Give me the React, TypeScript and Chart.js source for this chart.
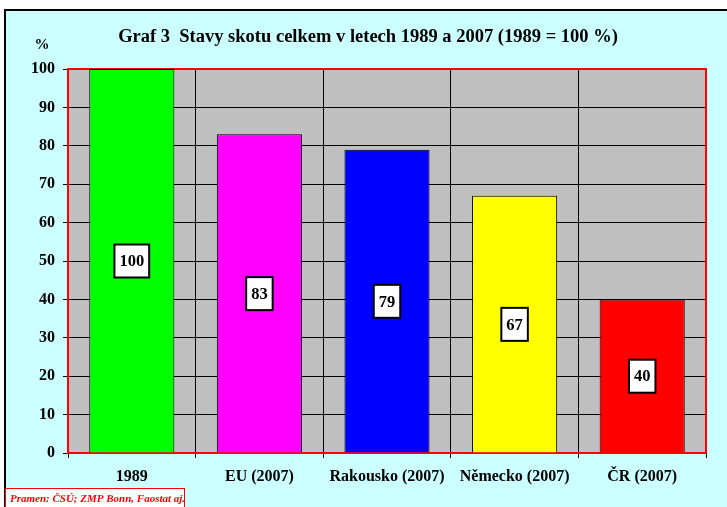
import React, { useEffect, useRef } from "react";
import { Chart, registerables } from "chart.js";

Chart.register(...registerables);

const categories = ["1989", "EU (2007)", "Rakousko (2007)", "Německo (2007)", "ČR (2007)"];
const values = [100, 83, 79, 67, 40];
const barColors = ["#00FF00", "#FF00FF", "#0000FF", "#FFFF00", "#FF0000"];
const titleText = "Graf 3  Stavy skotu celkem v letech 1989 a 2007 (1989 = 100 %)";
const yUnit = "%";
const sourceText = "Pramen: ČSÚ; ZMP Bonn, Faostat aj.";

const SERIF = "'Liberation Serif', 'Times New Roman', serif";

const decorPlugin = {
  id: "decor",
  beforeDraw(chart: any) {
    const ctx = chart.ctx;
    const { width, height, chartArea } = chart;
    ctx.save();
    ctx.fillStyle = "#FFFFFF";
    ctx.fillRect(0, 0, width, height);
    ctx.fillStyle = "#000000";
    ctx.fillRect(4, 9, width - 4, height - 9);
    ctx.fillStyle = "#CCFFFF";
    ctx.fillRect(6, 11, width - 6, height - 11);
    ctx.fillStyle = "#C0C0C0";
    ctx.fillRect(chartArea.left, chartArea.top, chartArea.right - chartArea.left, chartArea.bottom - chartArea.top);
    // title
    ctx.fillStyle = "#000000";
    ctx.font = `bold 18.5px ${SERIF}`;
    ctx.textAlign = "center";
    ctx.textBaseline = "middle";
    ctx.fillText(titleText, 368, 37);
    ctx.font = `bold 15px ${SERIF}`;
    ctx.fillText(yUnit, 42, 45);
    ctx.restore();
  },
  beforeDatasetsDraw(chart: any) {
    const ctx = chart.ctx;
    const a = chart.chartArea;
    ctx.save();
    ctx.strokeStyle = "#FF0000";
    ctx.lineWidth = 2;
    ctx.strokeRect(a.left, a.top, a.right - a.left, a.bottom - a.top);
    ctx.restore();
  },
  afterDatasetsDraw(chart: any) {
    const ctx = chart.ctx;
    const meta = chart.getDatasetMeta(0);
    const yScale = chart.scales.y;
    ctx.save();
    ctx.font = `bold 16.5px ${SERIF}`;
    ctx.textAlign = "center";
    ctx.textBaseline = "middle";
    meta.data.forEach((bar: any, i: number) => {
      const v = values[i];
      const label = String(v);
      const cx = bar.x;
      const cy = yScale.getPixelForValue(v / 2);
      const w = ctx.measureText(label).width + 10;
      const h = 33;
      ctx.fillStyle = "#FFFFFF";
      ctx.fillRect(cx - w / 2, cy - h / 2, w, h);
      ctx.strokeStyle = "#000000";
      ctx.lineWidth = 2;
      ctx.strokeRect(cx - w / 2, cy - h / 2, w, h);
      ctx.fillStyle = "#000000";
      ctx.fillText(label, cx, cy + 1);
    });
    ctx.restore();
  },
  afterDraw(chart: any) {
    const ctx = chart.ctx;
    ctx.save();
    ctx.fillStyle = "#FFFFFF";
    ctx.fillRect(5, 488, 179, 25);
    ctx.strokeStyle = "#FF0000";
    ctx.lineWidth = 1;
    ctx.strokeRect(5.5, 488.5, 179, 25);
    ctx.fillStyle = "#FF0000";
    ctx.font = `italic bold 11px ${SERIF}`;
    ctx.textAlign = "left";
    ctx.textBaseline = "middle";
    ctx.fillText(sourceText, 10, 499);
    ctx.restore();
  },
};

export default function App() {
  const ref = useRef<HTMLCanvasElement | null>(null);
  useEffect(() => {
    if (!ref.current) return;
    const chart = new Chart(ref.current, {
      type: "bar",
      data: {
        labels: categories,
        datasets: [
          {
            data: values,
            backgroundColor: barColors,
            borderColor: "#000000",
            borderWidth: 1,
            categoryPercentage: 1,
            barPercentage: 0.667,
          },
        ],
      },
      options: {
        animation: false,
        responsive: false,
        devicePixelRatio: 1,
        layout: { padding: { left: 0, right: 21, top: 69, bottom: 0 } },
        plugins: {
          legend: { display: false },
          title: { display: false },
          tooltip: { enabled: false },
        },
        scales: {
          x: {
            offset: true,
            grid: {
              offset: true,
              color: "#000000",
              lineWidth: 1,
              drawTicks: true,
              tickLength: 5,
              tickColor: "#000000",
            },
            border: { display: false },
            ticks: {
              color: "#000000",
              padding: 9,
              font: { family: SERIF, size: 16, weight: "bold" },
              maxRotation: 0,
              autoSkip: false,
            },
            afterFit(scale: any) {
              scale.height = 54;
            },
          },
          y: {
            min: 0,
            max: 100,
            ticks: {
              stepSize: 10,
              color: "#000000",
              padding: 8,
              font: { family: SERIF, size: 16, weight: "bold" },
            },
            grid: {
              color: "#000000",
              lineWidth: 1,
              drawTicks: true,
              tickLength: 5,
              tickColor: "#000000",
            },
            border: { display: false },
            afterFit(scale: any) {
              scale.width = 68;
            },
          },
        },
      },
      plugins: [decorPlugin],
    });
    return () => chart.destroy();
  }, []);
  return (
    <div style={{ position: "absolute", left: 0, top: 0, width: 727, height: 507 }}>
      <canvas ref={ref} width={727} height={507} style={{ display: "block" }} />
    </div>
  );
}
